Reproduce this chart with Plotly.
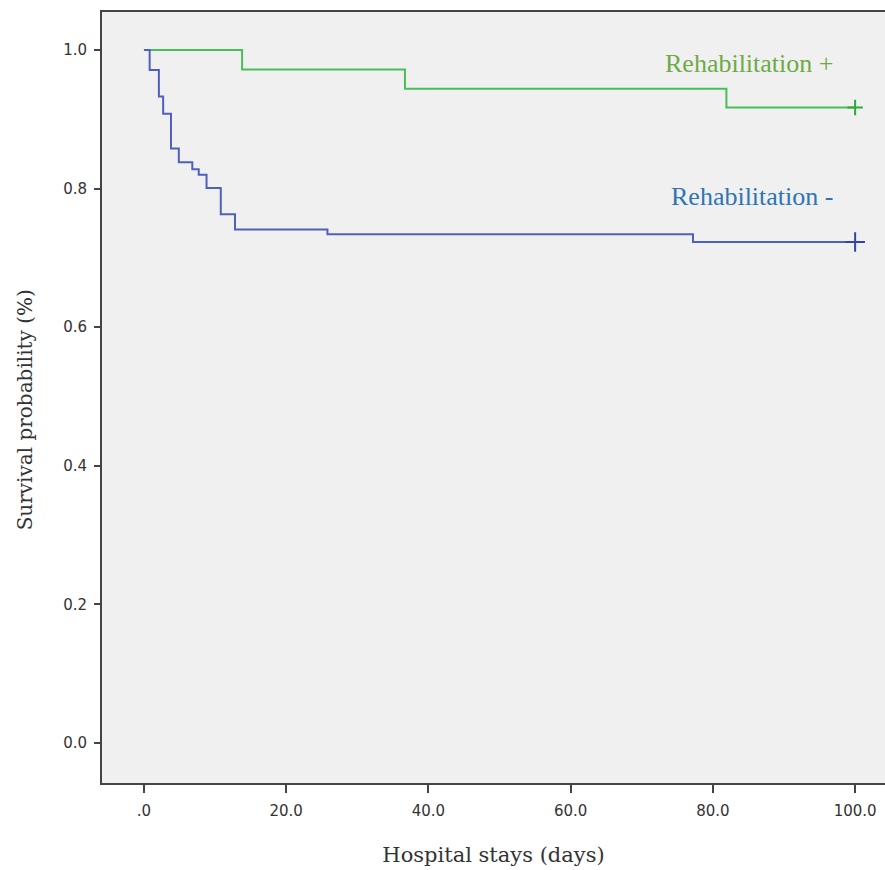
import plotly.graph_objects as go

# Kaplan-Meier step data
rehab_pos_days = [0.0, 13.8, 36.7, 81.9, 100.0]
rehab_pos_surv = [1.0, 0.972, 0.944, 0.917, 0.917]

rehab_neg_days = [0.0, 0.8, 2.1, 2.7, 3.8, 4.9, 6.8, 7.7, 8.8, 10.8, 12.8, 25.8, 77.2, 100.0]
rehab_neg_surv = [1.0, 0.971, 0.933, 0.908, 0.858, 0.838, 0.828, 0.820, 0.801, 0.763, 0.741, 0.734, 0.723, 0.723]

x_ticks = [0, 20, 40, 60, 80, 100]
x_tick_labels = [".0", "20.0", "40.0", "60.0", "80.0", "100.0"]
y_ticks = [0.0, 0.2, 0.4, 0.6, 0.8, 1.0]
y_tick_labels = ["0.0", "0.2", "0.4", "0.6", "0.8", "1.0"]

green = "rgb(72,190,88)"
blue = "rgb(78,96,190)"

fig = go.Figure()
fig.add_trace(go.Scatter(x=rehab_pos_days, y=rehab_pos_surv, mode="lines",
                         line=dict(color=green, width=2, shape="hv"), showlegend=False))
fig.add_trace(go.Scatter(x=rehab_neg_days, y=rehab_neg_surv, mode="lines",
                         line=dict(color=blue, width=2, shape="hv"), showlegend=False))
# censor marks
fig.add_trace(go.Scatter(x=[rehab_pos_days[-1]], y=[rehab_pos_surv[-1]], mode="markers",
                         marker=dict(symbol="cross-thin", size=11, line=dict(color="rgb(40,170,60)", width=2)),
                         showlegend=False))
fig.add_trace(go.Scatter(x=[rehab_neg_days[-1]], y=[rehab_neg_surv[-1]], mode="markers",
                         marker=dict(symbol="cross-thin", size=14, line=dict(color="rgb(50,70,170)", width=2)),
                         showlegend=False))

fig.add_annotation(x=97.1, y=0.981, xref="x", yref="y", text="Rehabilitation +", showarrow=False,
                   xanchor="right", yanchor="middle",
                   font=dict(family="Liberation Serif, Times New Roman, serif", size=26, color="rgb(110,170,70)"))
fig.add_annotation(x=97.1, y=0.788, xref="x", yref="y", text="Rehabilitation -", showarrow=False,
                   xanchor="right", yanchor="middle",
                   font=dict(family="Liberation Serif, Times New Roman, serif", size=26, color="rgb(46,116,182)"))

axis_font = dict(family="DejaVu Sans, Verdana, sans-serif", size=15, color="#333333")
title_font = dict(family="DejaVu Serif, Liberation Serif, serif", size=20, color="#333333")

# y-axis title placed as rotated text, slightly below the plot centre as in the reference
fig.add_annotation(x=-(102 - 25) / 783, y=0.48, xref="paper", yref="y", text="Survival probability (%)",
                   showarrow=False, textangle=-90, xanchor="center", yanchor="middle",
                   font=title_font)

fig.update_layout(
    width=885, height=870,
    margin=dict(l=102, r=0, t=12, b=87),
    paper_bgcolor="white", plot_bgcolor="#f0f0f0",
    xaxis=dict(range=[-5.9, 104.2], tickvals=x_ticks, ticktext=x_tick_labels,
               showgrid=False, zeroline=False, showline=True, linecolor="#444444", linewidth=2,
               mirror=True, ticks="outside", ticklen=8, tickwidth=2, tickcolor="#444444",
               tickfont=axis_font, ticklabelstandoff=5,
               title=dict(text="Hospital stays (days)", font=dict(family="DejaVu Serif, Liberation Serif, serif", size=21, color="#333333"), standoff=28)),
    yaxis=dict(range=[-0.0577, 1.0548], tickvals=y_ticks, ticktext=y_tick_labels,
               showgrid=False, zeroline=False, showline=True, linecolor="#444444", linewidth=2,
               ticks="outside", ticklen=6, tickwidth=2, tickcolor="#444444",
               tickfont=axis_font, ticklabelstandoff=4),
)

fig.write_html("out.html", config={"displayModeBar": False},
               post_script="document.body.style.margin='0';")
